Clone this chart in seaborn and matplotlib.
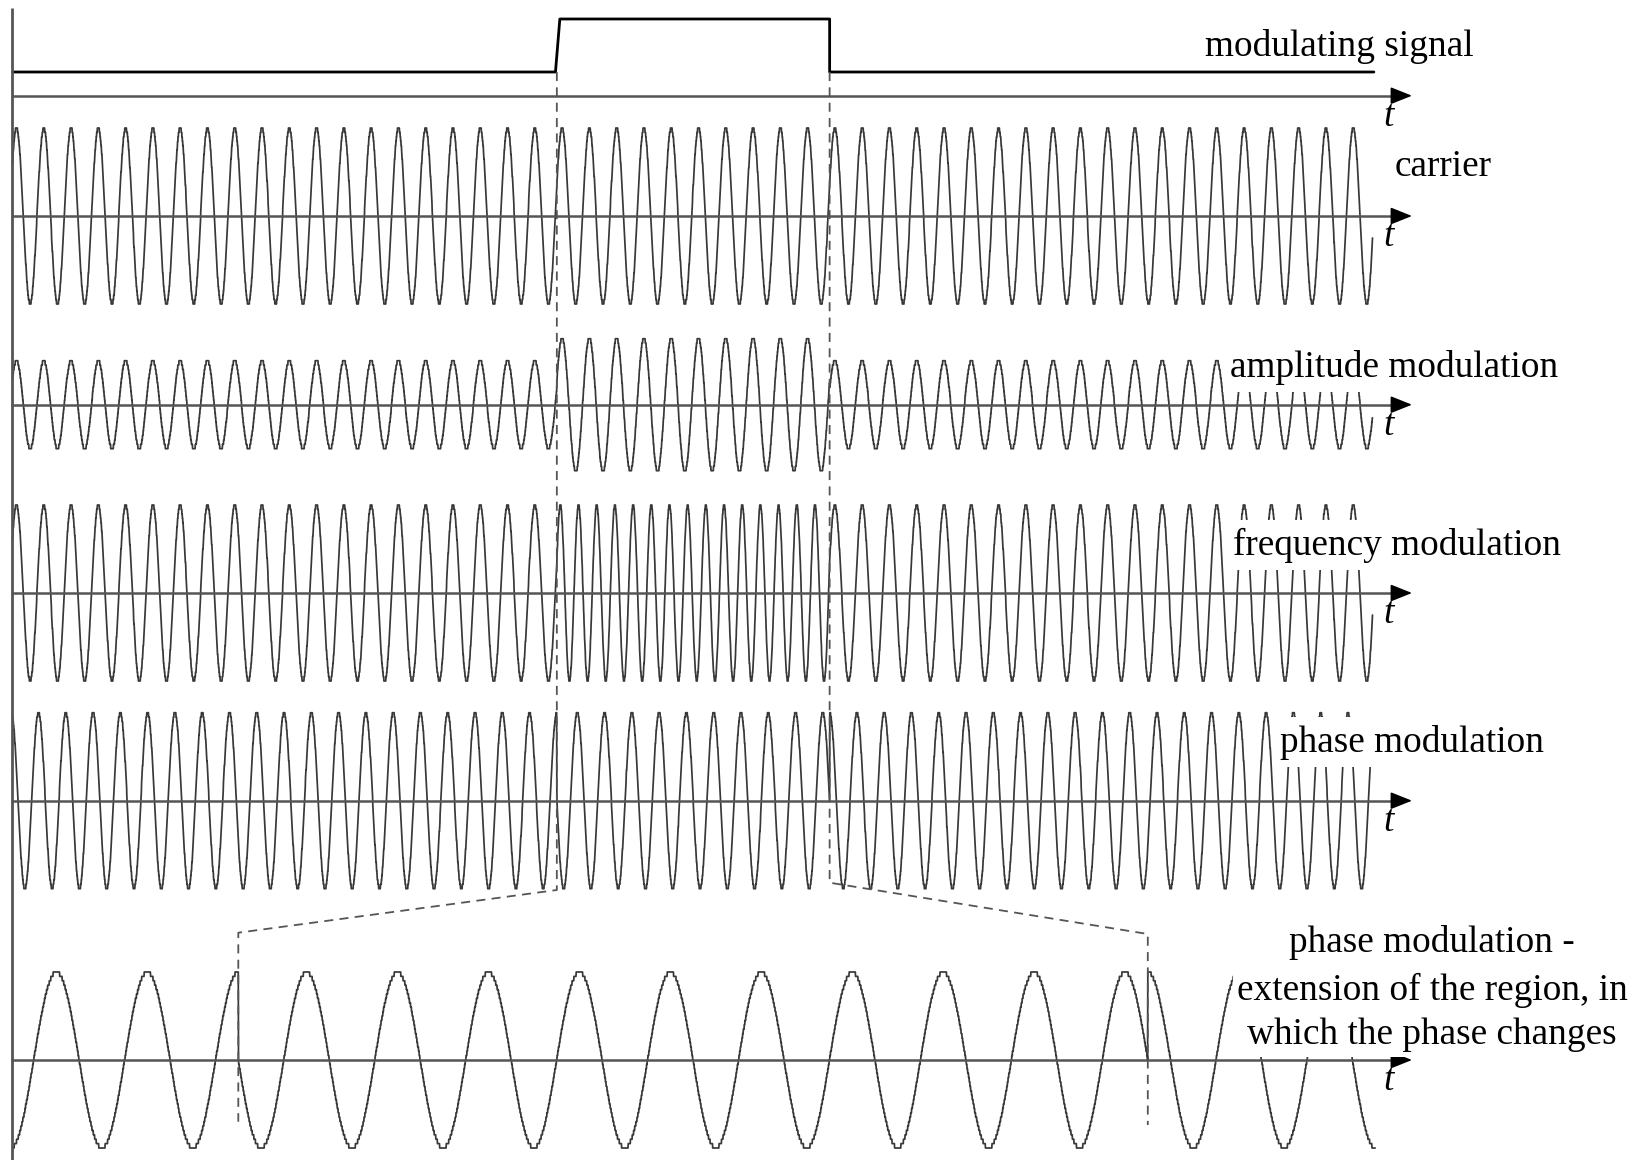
import numpy as np
import pandas as pd
import matplotlib
matplotlib.use("Agg")
import matplotlib.pyplot as plt
from matplotlib.patches import Rectangle
import seaborn as sns

# ------------------------------------------------------------------ data
# modulating (rectangular) signal: time in carrier periods, level 0/1
mod_t = [0.0, 19.90, 20.06, 29.95, 29.95, 49.90]
mod_level = [0, 0, 1, 1, 0, 0]

pulse_on = 19.95          # start of the pulse (carrier periods)
pulse_off = 29.95         # end of the pulse
wave_end = 49.85          # length of drawn waveforms (carrier periods)
carrier_peak = 0.143      # time of first carrier maximum
am_levels = [0.50, 0.76]  # carrier amplitude outside / inside the pulse
fm_ratio = [1.0, 1.5]     # carrier frequency outside / inside the pulse
pm_shift_deg = [0, 90]    # phase shift outside / inside the pulse
zoom_window = [pulse_on - 2.48, pulse_off + 2.50]   # region shown enlarged
quant_levels = 20         # light staircase quantisation of the plotted waves

row_labels = ["modulating signal", "carrier", "amplitude modulation",
              "frequency modulation", "phase modulation"]
zoom_label = ["phase modulation -", "extension of the region, in",
              "which the phase changes"]
axis_symbol = "t"

# ------------------------------------------------------------------ style
sns.set_style("white")
plt.rcParams["font.family"] = ["Liberation Serif", "DejaVu Serif"]

W, H = 1635, 1160
fig = plt.figure(figsize=(W / 100, H / 100), dpi=100)
fig.patch.set_facecolor("white")

WAVE = "#383838"
AXC = "#555555"
FS = 26.8

# layout (pixels)
X0, PXT = 12.6, 27.28            # top rows: x_px = X0 + t*PXT
ZX0, ZPXT = 238.3, 90.95         # zoom row: x_px = ZX0 + (t-pulse_on)*ZPXT
UNIT = 88.0
ARROW_TIP = 1412


def top_px(t):
    return X0 + np.asarray(t) * PXT


def zoom_px(t):
    return ZX0 + (np.asarray(t) - pulse_on) * ZPXT


def add_row(top, bot, zero_px, unit_px, x0_px, pxt, t0):
    ax = fig.add_axes([0, 1 - bot / H, 1, (bot - top) / H])
    ax.set_xlim(t0 - x0_px / pxt, t0 + (W - x0_px) / pxt)
    ax.set_ylim((zero_px - bot) / unit_px, (zero_px - top) / unit_px)
    ax.axis("off")
    ax.patch.set_alpha(0)
    return ax


def quant(y):
    return np.round(y * quant_levels) / quant_levels


def wave(ax, t, y):
    df = pd.DataFrame({"t": t, "y": quant(y)})
    sns.lineplot(data=df, x="t", y="y", ax=ax, estimator=None, sort=False,
                 color=WAVE, linewidth=1.25, legend=False)


# ------------------------------------------------------------------ signals
t = np.linspace(0, wave_end, 6000)
inside = (t >= pulse_on) & (t < pulse_off)
carrier = np.cos(2 * np.pi * (t - carrier_peak))
am = np.where(inside, am_levels[1], am_levels[0]) * carrier
tau = t + (fm_ratio[1] / fm_ratio[0] - 1) * np.clip(t - pulse_on, 0, pulse_off - pulse_on)
fm = np.cos(2 * np.pi * (tau - carrier_peak))
pm_shift = np.deg2rad(np.where(inside, pm_shift_deg[1], pm_shift_deg[0]))
pm = np.cos(2 * np.pi * (t - pulse_on) + pm_shift)

tz = np.linspace(zoom_window[0], zoom_window[1], 6000)
inz = (tz >= pulse_on) & (tz < pulse_off)
pmz = np.cos(2 * np.pi * (tz - pulse_on)
             + np.deg2rad(np.where(inz, pm_shift_deg[1], pm_shift_deg[0])))

# ------------------------------------------------------------------ rows
row_axis_px = [95.7, 216.0, 404.7, 593.0, 800.7, 1060.0]

# row 1: modulating signal (0 at px 72, 1 at px 19)
ax1 = add_row(0, 140, 72, 53, X0, PXT, 0)
df_mod = pd.DataFrame({"t": mod_t, "v": mod_level})
sns.lineplot(data=df_mod, x="t", y="v", ax=ax1, estimator=None, sort=False,
             color="black", linewidth=2.0, legend=False)

signals = [carrier, am, fm, pm]
for c, y in zip(row_axis_px[1:5], signals):
    ax = add_row(c - 120, c + 120, c, UNIT, X0, PXT, 0)
    wave(ax, t, y)

axz = add_row(900, H, row_axis_px[5], UNIT, ZX0, ZPXT, pulse_on)
wave(axz, tz, pmz)

# ------------------------------------------------------------------ overlay
ov = fig.add_axes([0, 0, 1, 1])
ov.set_xlim(0, W)
ov.set_ylim(H, 0)
ov.axis("off")
ov.patch.set_alpha(0)

# left border line
ov.plot([12, 12], [8, H], color=AXC, lw=2.0, solid_capstyle="butt")

# time axes with arrows
for yp in row_axis_px:
    ov.plot([12, ARROW_TIP - 12], [yp, yp], color=AXC, lw=1.8)
    ov.annotate("", xy=(ARROW_TIP, yp), xytext=(ARROW_TIP - 16, yp),
                arrowprops=dict(arrowstyle="-|>,head_length=0.55,head_width=0.22",
                                color="black", lw=1.2, mutation_scale=24,
                                shrinkA=0, shrinkB=0))
    fig.text(1383 / W, 1 - (yp + 30) / H, axis_symbol, fontsize=FS,
             style="italic", va="baseline", ha="left", color="black")

# dashed guides from the pulse edges down to the enlarged region
dash = dict(color="#555555", lw=1.3, ls=(0, (5, 3.5)))
xon, xoff = top_px(pulse_on), top_px(pulse_off)
zon, zoff = zoom_px(pulse_on), zoom_px(pulse_off)
ov.plot([xon, xon, zon, zon], [72, 890, 932.7, 1121.7], **dash)
ov.plot([xoff, xoff, zoff, zoff], [72, 882.7, 934, 1125], **dash)

# white panel behind the zoom label
ov.add_patch(Rectangle((1233, 921), 400, 136, facecolor="white",
                       edgecolor="none", zorder=5))

# ------------------------------------------------------------------ labels
box = dict(boxstyle="square,pad=0.2", facecolor="white", edgecolor="none")
label_pos = [(1205, 56, None), (1395, 175.7, None), (1230, 376.7, box),
             (1232.7, 555, box), (1280, 751.7, box)]
for txt, (xp, yp, bb) in zip(row_labels, label_pos):
    fig.text(xp / W, 1 - yp / H, txt, fontsize=FS, ha="left", va="baseline",
             color="black", bbox=bb)

for txt, yp in zip(zoom_label, [952, 1000, 1044.5]):
    fig.text(1432 / W, 1 - yp / H, txt, fontsize=FS, ha="center",
             va="baseline", color="black")

fig.savefig("out.png", dpi=100, facecolor="white")
